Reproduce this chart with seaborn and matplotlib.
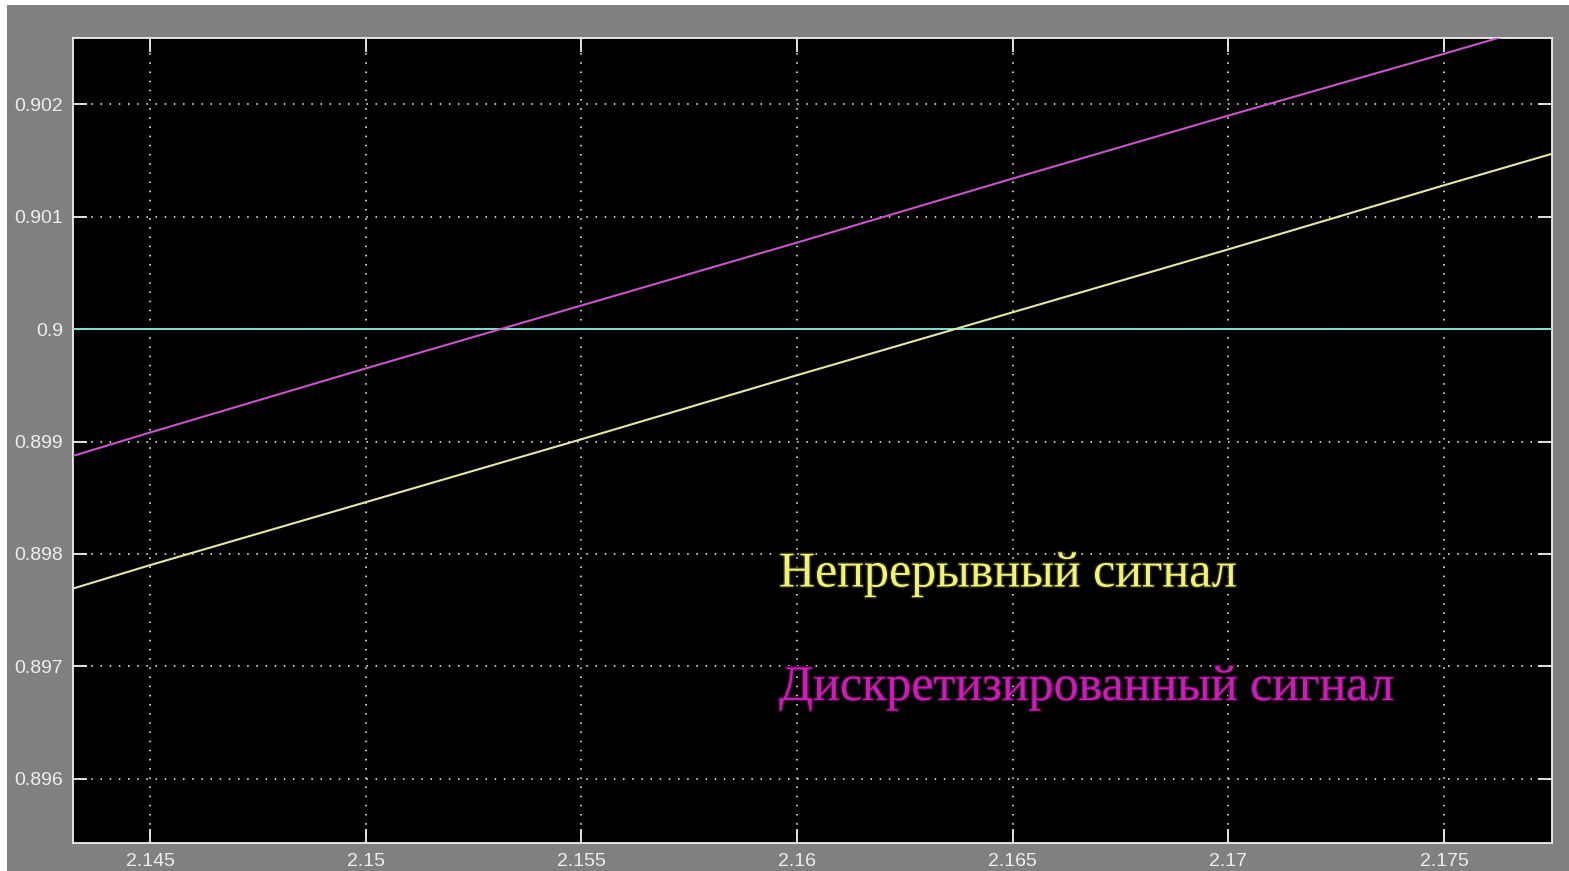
import matplotlib
matplotlib.use("Agg")
import matplotlib.pyplot as plt
import seaborn as sns
import pandas as pd
from matplotlib.patches import Rectangle
import matplotlib.patheffects as pe

# Time samples (s) and the two signals around the 0.9 threshold
t = [2.1432, 2.145, 2.15, 2.155, 2.16, 2.165, 2.17, 2.175, 2.1775]
continuous = [0.89769, 0.89790, 0.89846, 0.89902, 0.89959, 0.90015, 0.90071, 0.90128, 0.90156]
discretized = [0.89887, 0.89908, 0.89965, 0.90021, 0.90077, 0.90134, 0.90190, 0.90245, 0.90273]
threshold = 0.9

x_ticks = [2.145, 2.15, 2.155, 2.16, 2.165, 2.17, 2.175]
x_tick_labels = ["2.145", "2.15", "2.155", "2.16", "2.165", "2.17", "2.175"]
y_ticks = [0.896, 0.897, 0.898, 0.899, 0.9, 0.901, 0.902]
y_tick_labels = ["0.896", "0.897", "0.898", "0.899", "0.9", "0.901", "0.902"]

label_continuous = "Непрерывный сигнал"
label_discretized = "Дискретизированный сигнал"

df = pd.DataFrame({"t": t, "continuous": continuous, "discretized": discretized})

sns.set_style("dark")
plt.rcParams["font.family"] = ["Liberation Sans", "DejaVu Sans"]

W, H, DPI = 1569, 871, 100
fig = plt.figure(figsize=(W / DPI, H / DPI), dpi=DPI, facecolor="#808080")
# thin white border on top and left of the grey window panel
fig.patches.append(Rectangle((0, 1 - 5 / H), 1, 5 / H, transform=fig.transFigure,
                             facecolor="white", edgecolor="none", zorder=-5))
fig.patches.append(Rectangle((0, 0), 7 / W, 1, transform=fig.transFigure,
                             facecolor="white", edgecolor="none", zorder=-5))

left, right, top, bottom = 73, 1552, 38, 843
ax = fig.add_axes([left / W, 1 - bottom / H, (right - left) / W, (bottom - top) / H])
ax.set_zorder(2)
ax.set_facecolor("black")

ax.axhline(threshold, color="#7fe3d3", lw=1.4, zorder=3)
sns.lineplot(data=df, x="t", y="discretized", ax=ax, color="#c855c8", lw=1.5, zorder=4)
sns.lineplot(data=df, x="t", y="continuous", ax=ax, color="#e6e6a6", lw=1.5, zorder=4)

ax.set_xlim(2.143215, 2.1775)
ax.set_ylim(0.895428, 0.90259)
ax.set_xticks(x_ticks, x_tick_labels)
ax.set_yticks(y_ticks, y_tick_labels)
ax.set_xlabel("")
ax.set_ylabel("")

ax.grid(True, color="white", linestyle=(0, (1, 5)), lw=1.1, zorder=1)
for s in ax.spines.values():
    s.set_visible(True)
    s.set_color("#f0f0f0")
    s.set_linewidth(1.3)
ax.tick_params(axis="both", which="major", direction="in", length=10, width=1.3,
               color="#f0f0f0", labelcolor="#eeeeee", labelsize=14, pad=7,
               top=True, right=True, bottom=True, left=True)

serif = ["Liberation Serif", "DejaVu Serif"]
ax.text(2.15958, 0.89771, label_continuous, color="#f2f27a", fontsize=36,
        family=serif, ha="left", va="baseline", zorder=5,
        path_effects=[pe.withStroke(linewidth=2.0, foreground="#2a2a12")])
ax.text(2.15958, 0.89670, label_discretized, color="#c81eb4", fontsize=36,
        family=serif, ha="left", va="baseline", zorder=5,
        path_effects=[pe.withStroke(linewidth=2.0, foreground="#3a0c32")])

fig.savefig("out.png", dpi=DPI, facecolor=fig.get_facecolor())
